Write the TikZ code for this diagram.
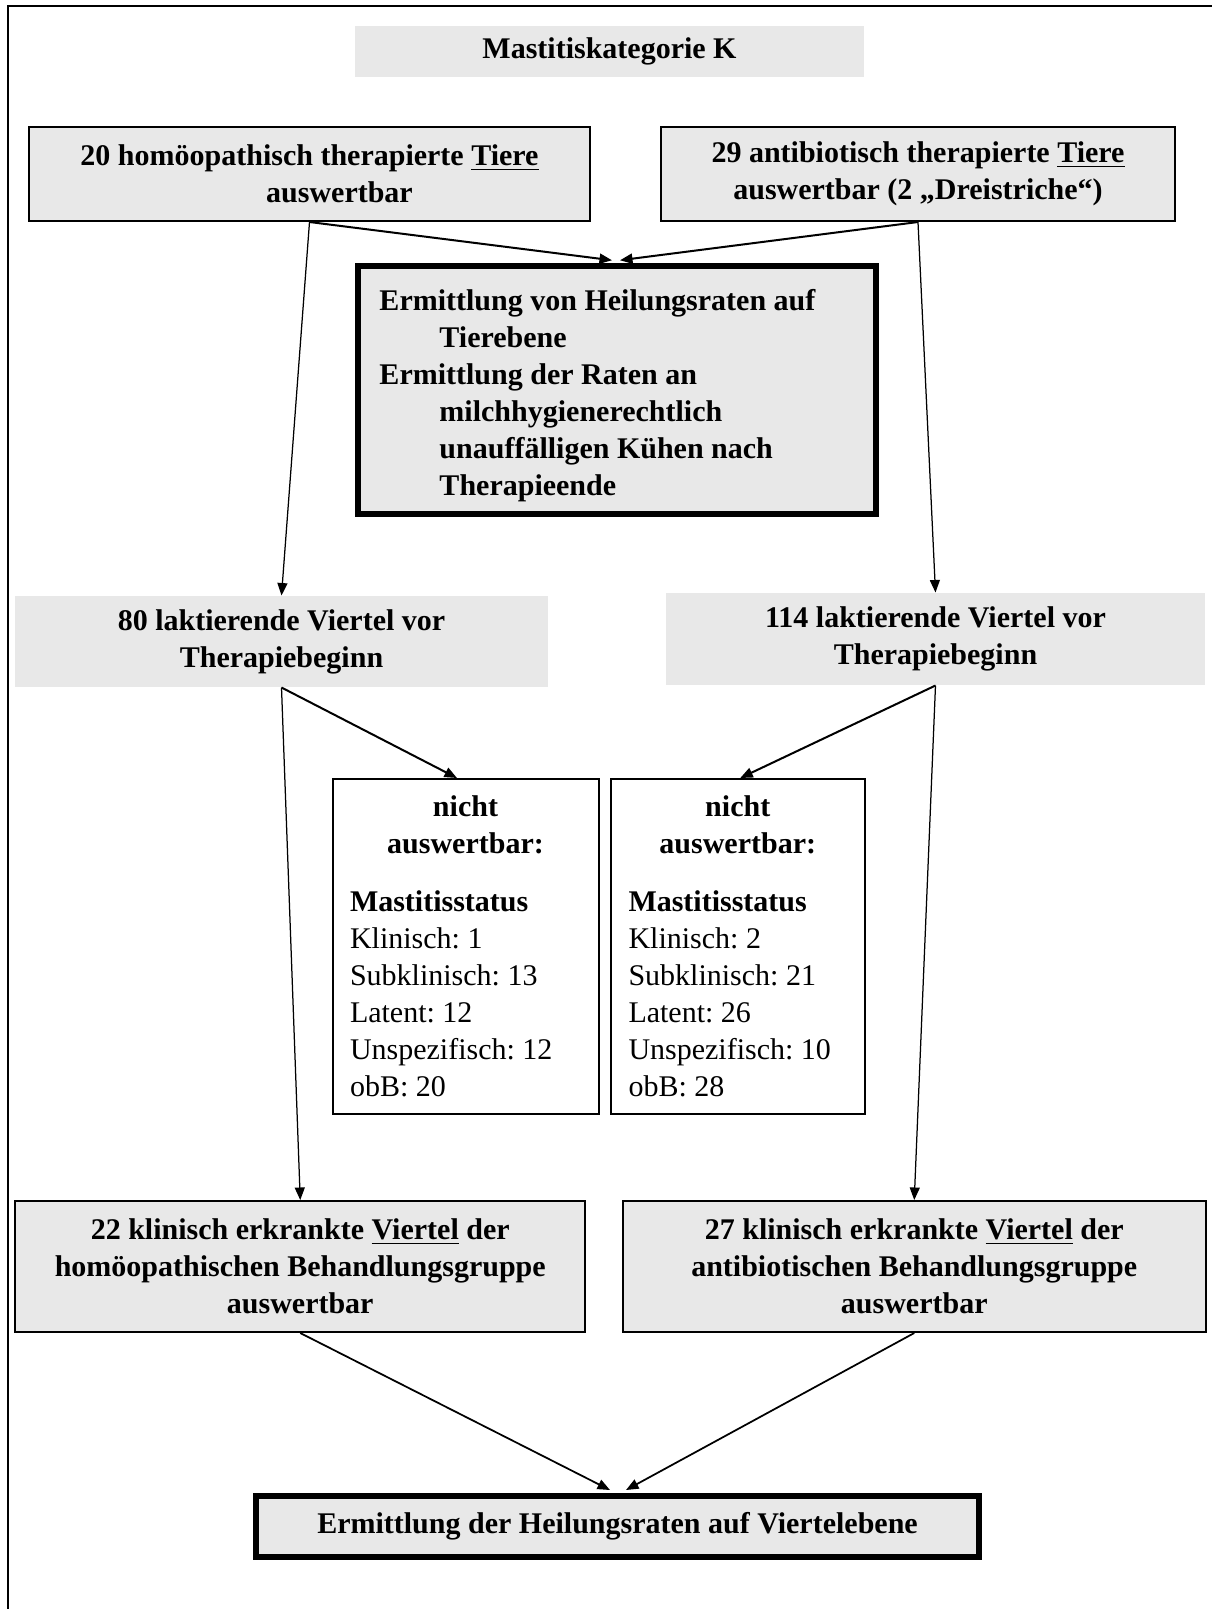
\documentclass[tikz,border=0pt]{standalone}
\usepackage{fontspec}
\setmainfont{Liberation Serif}
\usepackage{xcolor}
\usetikzlibrary{arrows.meta}
\frenchspacing

\definecolor{boxgray}{gray}{0.91}

\begin{document}
\begin{tikzpicture}[x=0.4pt, y=-0.4pt,
		txt/.style={font=\bfseries\fontsize{12}{14.8}\selectfont, inner sep=0pt},
		flat/.style={txt, fill=boxgray, align=center},
		box/.style={flat, draw, line width=0.8pt},
		heavybox/.style={flat, draw, line width=2.4pt},
		listbox/.style={draw, line width=0.8pt, fill=white, align=flush left, inner ysep=0pt, inner xsep=7pt, font=\fontsize{12}{14.8}\selectfont},
		fat/.style={-{Triangle[length=5pt,width=4pt]}, line width=0.8pt},
		slim/.style={-{Triangle[length=5pt,width=4pt]}, line width=0.5pt}]
		\useasboundingbox (0,0) rectangle (1212,1609);
		\draw[line width=0.8pt] (8,1609) -- (8,6) -- (1212,6);

		\node[flat, minimum width=203.6pt, minimum height=20.4pt] (kat) at (609.5,51.5) {Mastitiskategorie K};
		\node[box, minimum width=224.4pt, minimum height=37.6pt] (homTiere) at (309.5,174)
			{20 homöopathisch therapierte \underline{Tiere}\\ \hspace*{24pt}auswertbar};
		\node[box, minimum width=205.6pt, minimum height=37.6pt] (abTiere) at (918,174)
			{29 antibiotisch therapierte \underline{Tiere}\\ auswertbar (2 „Dreistriche“)};
		\node[heavybox, align=flush left, text width=190pt, inner xsep=8.6pt, minimum height=99pt] (tierebene) at (617,390)
			{\rule{0pt}{13pt}Ermittlung von Heilungsraten auf\\ \hspace*{24pt}Tierebene\\
			 Ermittlung der Raten an\\ \hspace*{24pt}milchhygienerechtlich\\
			 \hspace*{24pt}unauffälligen Kühen nach\\ \hspace*{24pt}Therapieende};

		\node[flat, minimum width=213.2pt, minimum height=36.4pt] (homViertel) at (281.5,641.5)
			{80 laktierende Viertel vor\\ Therapiebeginn};
		\node[flat, minimum width=215.6pt, minimum height=36.8pt] (abViertel) at (935.5,639)
			{114 laktierende Viertel vor\\ Therapiebeginn};

		\node[listbox, text width=92.4pt, minimum height=134pt] (nichtHom) at (465.5,946.5)
			{{\centering\bfseries nicht\par auswertbar:\par}\vspace{8.5pt}
			 \textbf{Mastitisstatus}\\ Klinisch: 1\\ Subklinisch: 13\\ Latent: 12\\ Unspezifisch: 12\\ obB: 20};
		\node[listbox, text width=87.4pt, minimum height=134pt] (nichtAb) at (737.75,946.5)
			{{\centering\bfseries nicht\par auswertbar:\par}\vspace{8.5pt}
			 \textbf{Mastitisstatus}\\ Klinisch: 2\\ Subklinisch: 21\\ Latent: 26\\ Unspezifisch: 10\\ obB: 28};

		\node[box, minimum width=227.8pt, minimum height=52.4pt] (homKlin) at (300.25,1266.5)
			{22 klinisch erkrankte \underline{Viertel} der\\ homöopathischen Behandlungsgruppe\\ auswertbar};
		\node[box, minimum width=233pt, minimum height=52.4pt] (abKlin) at (914.25,1266.5)
			{27 klinisch erkrankte \underline{Viertel} der\\ antibiotischen Behandlungsgruppe\\ auswertbar};

		\node[heavybox, minimum width=288.8pt, minimum height=24.4pt] (viertelebene) at (617.5,1526.5)
			{Ermittlung der Heilungsraten auf Viertelebene};

		\draw[fat] (homTiere.south) -- ([xshift=-2pt,yshift=1.2pt]tierebene.north);
		\draw[fat] (abTiere.south) -- ([xshift=1.2pt,yshift=1.2pt]tierebene.north);
		\foreach \a/\b in {homTiere/homViertel, abTiere/abViertel, homViertel/homKlin, abViertel/abKlin}
		{
			\draw[slim] (\a.south) -- (\b.north);
		}
		\draw[fat] (homViertel.south) -- ([xshift=-3.4pt]nichtHom.north);
		\draw[fat] (abViertel.south) -- ([xshift=1pt]nichtAb.north);
		\draw[fat, line width=0.7pt] (homKlin.south) -- ([xshift=-3pt,yshift=1.2pt]viertelebene.north);
		\draw[fat, line width=0.7pt] (abKlin.south) -- ([xshift=3.4pt,yshift=1.2pt]viertelebene.north);
\end{tikzpicture}
\end{document}
